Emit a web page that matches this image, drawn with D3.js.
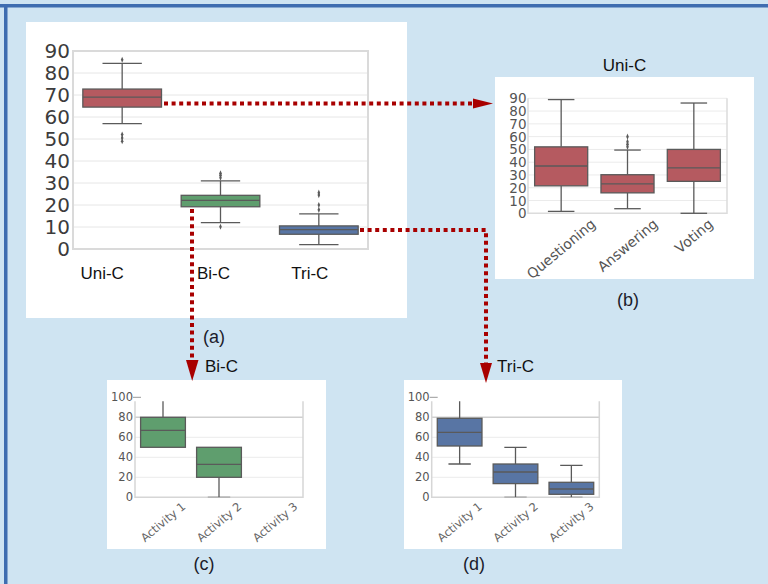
<!DOCTYPE html>
<html>
<head>
<meta charset="utf-8">
<script src="https://cdn.jsdelivr.net/npm/d3@7/dist/d3.min.js"></script>
<style>
  html, body { margin: 0; padding: 0; background: #cfe4f2; }
  svg { display: block; }
</style>
</head>
<body>
<svg id="fig" width="768" height="584"></svg>
<script>
// ---- (a) all groups ----
const groupNames   = ["Uni-C", "Bi-C", "Tri-C"];
const groupLow     = [57, 12, 2];
const groupQ1      = [64.5, 19.2, 6.7];
const groupMedian  = [69, 22.1, 8.8];
const groupQ3      = [72.7, 24.4, 10.5];
const groupHigh    = [84.4, 31, 16];
const groupFliers  = [[49, 50.5, 52, 86], [10.1, 32.4, 33.5, 34.4], [17.8, 20, 24.5, 25.6]];
const groupTicks   = [0, 10, 20, 30, 40, 50, 60, 70, 80, 90];

// ---- (b) Uni-C by action ----
const actionNames  = ["Questioning", "Answering", "Voting"];
const actionLow    = [1.5, 3.6, 0];
const actionQ1     = [21.5, 16, 25];
const actionMedian = [37, 23, 35.5];
const actionQ3     = [52, 30.2, 50];
const actionHigh   = [89, 49.5, 86.3];
const actionFliers = [[], [52, 54, 56, 60], []];
const actionTicks  = [0, 10, 20, 30, 40, 50, 60, 70, 80, 90];

// ---- (c) Bi-C by activity ----
const activityNames = ["Activity 1", "Activity 2", "Activity 3"];
const biLow     = [50, 0, null];
const biQ1      = [50, 20, null];
const biMedian  = [67, 33, null];
const biQ3      = [80, 50, null];
const biHigh    = [100, 50, null];

// ---- (d) Tri-C by activity ----
const triLow    = [33.3, 0, 0];
const triQ1     = [51.3, 13.7, 3];
const triMedian = [65, 25.3, 8.3];
const triQ3     = [79, 33.3, 15];
const triHigh   = [100, 50, 32];
const activityTicks = [0, 20, 40, 60, 80, 100];

const RED = "#b55a60", GREEN = "#5f9e6e", BLUE = "#5875a4";
const ARROW = "#a80000";
const LINE = "#5a5a5a";

const svg = d3.select("#fig");

// page background and the dark blue frame edges
svg.append("rect").attr("width", 768).attr("height", 584).attr("fill", "#cfe4f2");
svg.append("rect").attr("x", 0).attr("y", 4).attr("width", 768).attr("height", 3.5).attr("fill", "#3f6db0");
svg.append("rect").attr("x", 4).attr("y", 4).attr("width", 3.5).attr("height", 580).attr("fill", "#3f6db0");

// white cards
const cards = [[26, 22, 381, 296], [495, 77, 259, 202], [107, 380, 219, 169], [404, 380, 218, 169]];
cards.forEach(c => svg.append("rect").attr("x", c[0]).attr("y", c[1])
  .attr("width", c[2]).attr("height", c[3]).attr("fill", "#ffffff"));

function boxData(names, low, q1, med, q3, high, fliers, fills) {
  return names.map((n, i) => ({
    name: n, low: low[i], q1: q1[i], med: med[i], q3: q3[i], high: high[i],
    fliers: fliers ? fliers[i] : [], fill: fills[i % fills.length]
  }));
}

function drawBoxes(g, data, x, y, clipId) {
  const bw = x.bandwidth();
  const layer = g.append("g");
  if (clipId) layer.attr("clip-path", `url(#${clipId})`);
  const seg = (x1, y1, x2, y2) => layer.append("line")
    .attr("x1", x1).attr("y1", y1).attr("x2", x2).attr("y2", y2)
    .attr("stroke", LINE).attr("stroke-width", 1.3);
  data.forEach(d => {
    if (d.q1 == null) return;
    const cx = x(d.name) + bw / 2;
    const cap = bw / 4;
    seg(cx, y(d.q3), cx, y(d.high));
    seg(cx, y(d.q1), cx, y(d.low));
    if (d.high > d.q3) seg(cx - cap, y(d.high), cx + cap, y(d.high));
    if (d.low < d.q1) seg(cx - cap, y(d.low), cx + cap, y(d.low));
    layer.append("rect").attr("x", x(d.name)).attr("y", y(d.q3))
      .attr("width", bw).attr("height", y(d.q1) - y(d.q3))
      .attr("fill", d.fill).attr("stroke", LINE).attr("stroke-width", 1.3);
    seg(x(d.name), y(d.med), x(d.name) + bw, y(d.med));
    d.fliers.forEach(v => {
      layer.append("path").attr("d", d3.symbol(d3.symbolDiamond, 9)())
        .attr("transform", `translate(${cx},${y(v)}) scale(0.8,1.1)`)
        .attr("fill", LINE);
    });
  });
}

function rotatedLabels(g, names, x, yBase, size, color, pad) {
  const ang = 40 * Math.PI / 180;
  names.forEach(n => {
    const t = g.append("text").text(n)
      .attr("font-family", "DejaVu Sans, sans-serif").attr("font-size", size)
      .attr("fill", color).attr("text-anchor", "middle").attr("dominant-baseline", "central");
    const len = t.node().getComputedTextLength();
    const h = len * Math.sin(ang) + size * Math.cos(ang);
    const cx = x(n) + x.bandwidth() / 2;
    t.attr("transform", `translate(${cx},${yBase + pad + h / 2}) rotate(-40)`);
  });
}

// ===== (a) =====
{
  const x = d3.scaleBand().domain(groupNames).range([73, 368]).paddingInner(0.2).paddingOuter(0.1);
  const y = d3.scaleLinear().domain([0, 90]).range([249, 51]);
  const g = svg.append("g");
  groupTicks.forEach(t => {
    if (t > 0 && t < 90)
      g.append("line").attr("x1", 73).attr("x2", 368).attr("y1", y(t)).attr("y2", y(t))
        .attr("stroke", "#e6e6e6").attr("stroke-width", 1);
    g.append("text").attr("x", 70).attr("y", y(t)).text(t)
      .attr("text-anchor", "end").attr("dominant-baseline", "central")
      .attr("font-family", "DejaVu Sans, sans-serif").attr("font-size", 20).attr("fill", "#3c3c3c");
  });
  g.append("rect").attr("x", 73).attr("y", y(90)).attr("width", 295).attr("height", y(0) - y(90))
    .attr("fill", "none").attr("stroke", "#dadada").attr("stroke-width", 2);
  drawBoxes(g, boxData(groupNames, groupLow, groupQ1, groupMedian, groupQ3, groupHigh, groupFliers,
    [RED, GREEN, BLUE]), x, y);
  const labelShift = [-20, -7, -9];
  groupNames.forEach((n, i) => {
    g.append("text").attr("x", x(n) + x.bandwidth() / 2 + labelShift[i]).attr("y", 279).text(n)
      .attr("text-anchor", "middle").attr("font-family", "Liberation Sans, Arial, sans-serif")
      .attr("font-size", 17).attr("fill", "#111");
  });
}

// ===== (b) =====
{
  const x = d3.scaleBand().domain(actionNames).range([528, 727]).paddingInner(0.2).paddingOuter(0.1);
  const y = d3.scaleLinear().domain([0, 90]).range([213.3, 98.3]);
  const g = svg.append("g");
  actionTicks.forEach(t => {
    if (t > 0)
      g.append("line").attr("x1", 528).attr("x2", 727).attr("y1", y(t)).attr("y2", y(t))
        .attr("stroke", "#ebebeb").attr("stroke-width", 1);
    g.append("text").attr("x", 526.5).attr("y", y(t)).text(t)
      .attr("text-anchor", "end").attr("dominant-baseline", "central")
      .attr("font-family", "DejaVu Sans, sans-serif").attr("font-size", 13.5).attr("fill", "#555");
  });
  g.append("path").attr("d", `M528,${y(90)}V${y(0)}H727V${y(90)}`)
    .attr("fill", "none").attr("stroke", "#dcdcdc").attr("stroke-width", 1.5);
  drawBoxes(g, boxData(actionNames, actionLow, actionQ1, actionMedian, actionQ3, actionHigh, actionFliers,
    [RED]), x, y);
  rotatedLabels(g, actionNames, x, y(0), 14, "#555", 3);
  g.append("text").attr("x", 624.5).attr("y", 70.5).text("Uni-C").attr("text-anchor", "middle")
    .attr("font-family", "Liberation Sans, Arial, sans-serif").attr("font-size", 17).attr("fill", "#111");
}

// ===== (c) and (d) =====
function activityPanel(x0, x1, low, q1, med, q3, high, fill, clipId) {
  const x = d3.scaleBand().domain(activityNames).range([x0, x1]).paddingInner(0.2).paddingOuter(0.1);
  const y = d3.scaleLinear().domain([0, 100]).range([497.3, 397.3]);
  const g = svg.append("g");
  svg.append("clipPath").attr("id", clipId).append("rect")
    .attr("x", x0).attr("y", y(96)).attr("width", x1 - x0).attr("height", y(0) - y(96));
  activityTicks.forEach(t => {
    if (t > 0 && t < 100)
      g.append("line").attr("x1", x0).attr("x2", x1).attr("y1", y(t)).attr("y2", y(t))
        .attr("stroke", t === 80 ? "#cfcfcf" : "#ececec").attr("stroke-width", t === 80 ? 1.5 : 1);
    g.append("text").attr("x", x0 - 2).attr("y", y(t)).text(t)
      .attr("text-anchor", "end").attr("dominant-baseline", "central")
      .attr("font-family", "DejaVu Sans, sans-serif").attr("font-size", 11.5).attr("fill", "#555");
  });
  g.append("line").attr("x1", x0 - 2).attr("x2", x0 + 6).attr("y1", y(100)).attr("y2", y(100))
    .attr("stroke", "#999").attr("stroke-width", 1);
  g.append("path").attr("d", `M${x0},${y(96)}V${y(0)}H${x1}V${y(96)}`)
    .attr("fill", "none").attr("stroke", "#d6d6d6").attr("stroke-width", 1.5);
  drawBoxes(g, boxData(activityNames, low, q1, med, q3, high, null, [fill]), x, y, clipId);
  rotatedLabels(g, activityNames, x, y(0), 11.5, "#666", 3);
}
activityPanel(135, 303, biLow, biQ1, biMedian, biQ3, biHigh, GREEN, "clipC");
activityPanel(431.7, 599.3, triLow, triQ1, triMedian, triQ3, triHigh, BLUE, "clipD");

// panel titles and letters
const titleFont = "Liberation Sans, Arial, sans-serif";
svg.append("text").attr("x", 205).attr("y", 371.5).text("Bi-C")
  .attr("font-family", titleFont).attr("font-size", 17).attr("fill", "#111");
svg.append("text").attr("x", 497).attr("y", 371.5).text("Tri-C")
  .attr("font-family", titleFont).attr("font-size", 17).attr("fill", "#111");
[["(a)", 214, 343], ["(b)", 628, 306], ["(c)", 204, 570], ["(d)", 474, 570]].forEach(l => {
  svg.append("text").attr("x", l[1]).attr("y", l[2]).text(l[0]).attr("text-anchor", "middle")
    .attr("font-family", titleFont).attr("font-size", 18).attr("fill", "#1c1c2c");
});

// dotted connectors with arrowheads
function dotted(d) {
  svg.append("path").attr("d", d).attr("fill", "none").attr("stroke", ARROW)
    .attr("stroke-width", 4).attr("stroke-dasharray", "4 3.6");
}
function head(points) {
  svg.append("path").attr("d", "M" + points.map(p => p.join(",")).join("L") + "Z").attr("fill", ARROW);
}
dotted("M164,103.5H474");
head([[473, 98.5], [493, 103.5], [473, 108.5]]);
dotted("M192,209V361");
head([[186, 360], [198.5, 360], [192.2, 381]]);
dotted("M360,230H486V364");
head([[480, 363], [492, 363], [486, 383]]);
</script>
</body>
</html>
